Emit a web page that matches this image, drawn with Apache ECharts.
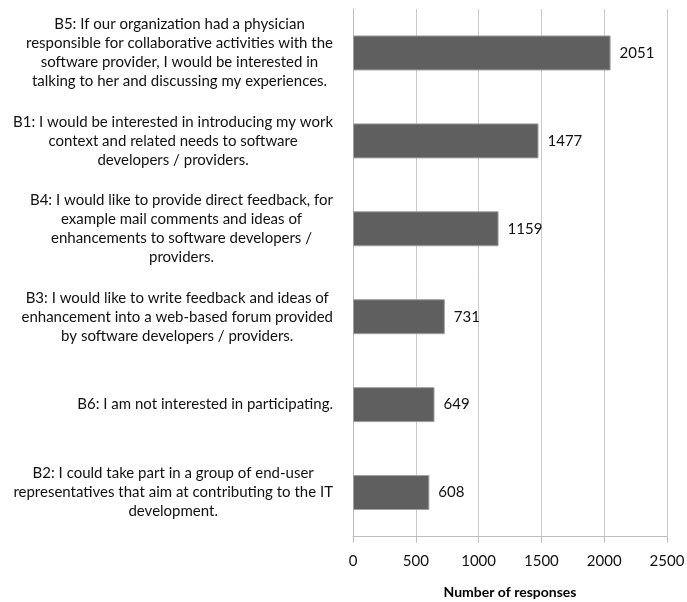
<!DOCTYPE html>
<html>
<head>
<meta charset="utf-8">
<script src="https://cdn.jsdelivr.net/npm/echarts@6/dist/echarts.min.js"></script>
<style>
html,body{margin:0;padding:0;background:#fff;}
#chart{width:687px;height:602px;}
</style>
</head>
<body>
<div id="chart"></div>
<script>
var categories = [
  "B5: If our organization had a physician\nresponsible for collaborative activities with the\nsoftware provider, I would be interested in\ntalking to her and discussing my experiences.",
  "B1: I would be interested in introducing my work\ncontext and related needs to software\ndevelopers / providers.",
  "B4: I would like to provide direct feedback, for\nexample mail comments and ideas of\nenhancements to software developers /\nproviders.",
  "B3: I would like to write feedback and ideas of\nenhancement into a web-based forum provided\nby software developers / providers.",
  "B6: I am not interested in participating.",
  "B2: I could take part in a group of end-user\nrepresentatives that aim at contributing to the IT\ndevelopment."
];
var responses = [2051, 1477, 1159, 731, 649, 608];
var xTickLabels = ["0", "500", "1000", "1500", "2000", "2500"];
var axisName = "Number of responses";

var FONT = "Lato";
var chart = echarts.init(document.getElementById('chart'), null, {renderer: 'canvas'});
chart.setOption({
  backgroundColor: '#ffffff',
  animation: false,
  grid: {left: 353, right: 20, top: 9, bottom: 65.5, containLabel: false, outerBoundsMode: 'none'},
  xAxis: {
    type: 'value',
    min: 0,
    max: 2500,
    interval: 500,
    name: axisName,
    nameLocation: 'middle',
    nameGap: 49,
    nameMoveOverlap: false,
    nameTextStyle: {fontFamily: FONT, fontSize: 14, fontWeight: 'bold', color: '#000'},
    axisLine: {show: true, lineStyle: {color: '#bdbdbd', width: 1}},
    axisTick: {show: true, length: 6, inside: false, lineStyle: {color: '#bdbdbd'}},
    axisLabel: {
      margin: 17,
      fontFamily: FONT,
      fontSize: 15,
      color: '#111',
      formatter: function (v) { return xTickLabels[Math.round(v / 500)]; }
    },
    splitLine: {show: true, lineStyle: {color: '#cacaca', width: 1}}
  },
  yAxis: {
    type: 'category',
    inverse: true,
    data: categories,
    axisLine: {show: true, lineStyle: {color: '#bdbdbd', width: 1}},
    axisTick: {show: false},
    axisLabel: {
      margin: 20,
      align: 'right',
      formatter: function (v) {
        return v.split('\n').map(function (l) { return '{c|' + l + '}'; }).join('\n');
      },
      rich: {
        c: {align: 'center', fontFamily: FONT, fontSize: 15, lineHeight: 19, color: '#111'}
      }
    }
  },
  series: [{
    type: 'bar',
    data: responses,
    barWidth: 35,
    itemStyle: {color: '#5f5f5f', borderColor: '#a0a0a0', borderWidth: 1},
    label: {
      show: true,
      position: 'right',
      distance: 9,
      fontFamily: FONT,
      fontSize: 15,
      color: '#111'
    }
  }]
});
</script>
</body>
</html>
